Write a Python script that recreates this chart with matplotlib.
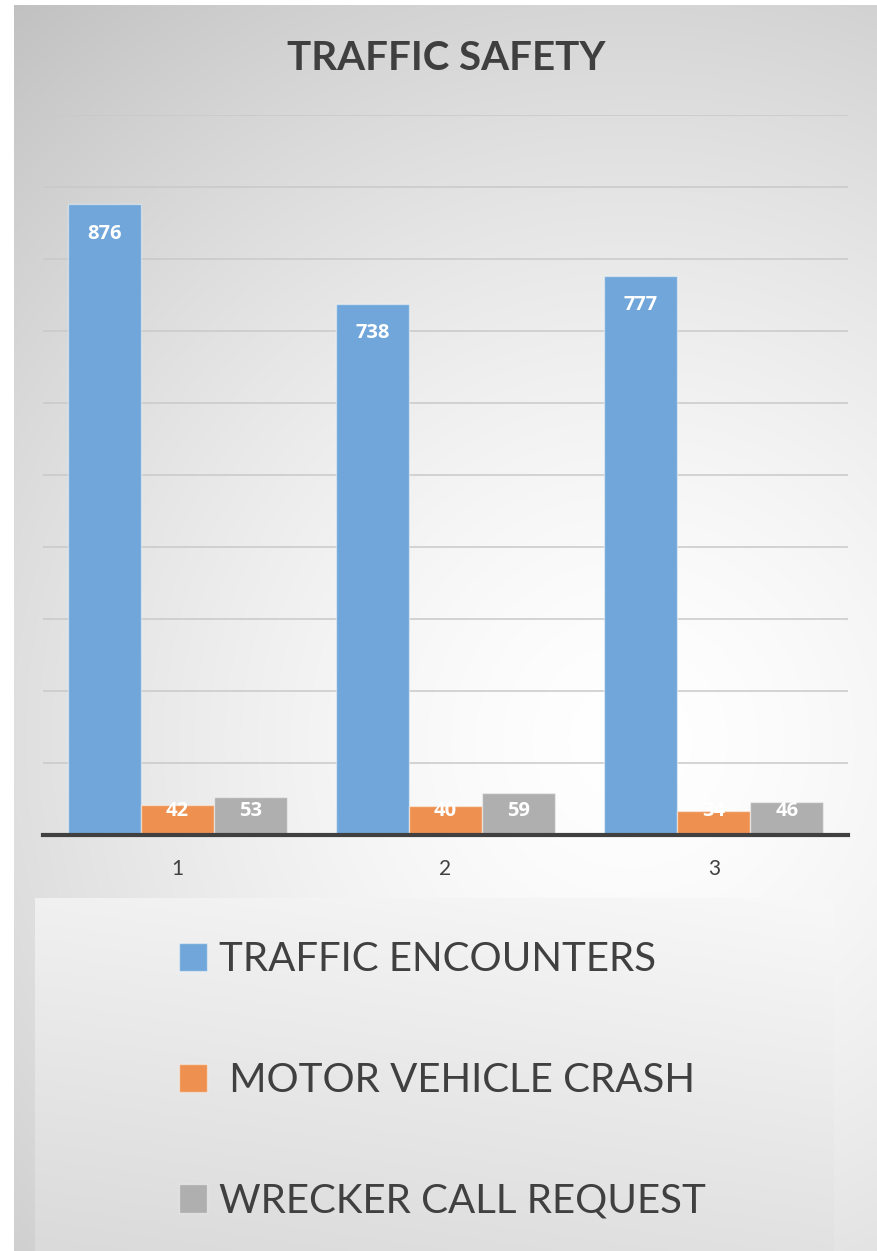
import numpy as np
import matplotlib
matplotlib.use("Agg")
import matplotlib.pyplot as plt

categories = ['1', '2', '3']
series_names = ['TRAFFIC ENCOUNTERS', ' MOTOR VEHICLE CRASH', 'WRECKER CALL REQUEST']
traffic = [876, 738, 777]
crash = [42, 40, 34]
wrecker = [53, 59, 46]
colors = ['#70a6d9', '#ee9150', '#afafaf']

W, H = 877, 1251
fig = plt.figure(figsize=(W / 100, H / 100), dpi=100)
plt.rcParams['font.family'] = ['Lato', 'DejaVu Sans']

# background
bg = fig.add_axes([0, 0, 1, 1], zorder=-10)
bg.set_xlim(0, W); bg.set_ylim(H, 0); bg.axis('off')
yy, xx = np.mgrid[0:H, 0:W]
d = np.sqrt((xx - 630) ** 2 + (yy - 740) ** 2)
g = 255 - 62 * np.clip(d / 960, 0, 1) ** 1.5
img = np.dstack([g, g, g]) / 255.0
img[:5, :, :] = 1.0
img[:, :14, :] = 1.0
bg.imshow(img, extent=(0, W, H, 0), aspect='auto', interpolation='bilinear')
# legend box gradient
ly0, ly1, lx0, lx1 = 898, H, 35, 834
ly, lx = np.mgrid[ly0:ly1, lx0:lx1]
t = ((ly - ly0) / (ly1 - ly0)) * 0.75 + ((lx1 - lx) / (lx1 - lx0)) * 0.25
lg = 248 - 30 * t
bg.imshow(np.dstack([lg, lg, lg]) / 255.0, extent=(lx0, lx1, ly1, ly0), aspect='auto', interpolation='bilinear')
bg.set_xlim(0, W); bg.set_ylim(H, 0)

# main axes
left, right = 43 / W, 848 / W
bottom, top = 1 - 835 / H, 1 - 115 / H
ax = fig.add_axes([left, bottom, right - left, top - bottom])
ax.patch.set_alpha(0)
x = np.arange(len(categories))
w = 0.272
all_series = [traffic, crash, wrecker]
bars = []
for i, (vals, c, name) in enumerate(zip(all_series, colors, series_names)):
    b = ax.bar(x + (i - 1) * w, vals, w, color=c, edgecolor=(1, 1, 1, 0.45), linewidth=1.0,
               label=name, zorder=3)
    bars.append(b)
    for xi, v in zip(x + (i - 1) * w, vals):
        ax.text(xi, max(v - 41, 33), str(v), ha='center', va='center', color='white',
                fontsize=14.5, fontweight='bold', fontfamily=['Open Sans', 'DejaVu Sans'], zorder=4)

ax.set_xlim(-0.5, 2.5)
ax.set_ylim(0, 1000)
ax.set_yticks(np.arange(100, 1001, 100))
ax.yaxis.grid(True, color='#c9c9c9', linewidth=1.1, zorder=0)
ax.tick_params(axis='y', length=0, labelleft=False)
ax.set_xticks(x)
ax.set_xticklabels(categories, fontsize=15, color='#404040')
ax.tick_params(axis='x', length=0, pad=17)
for s in ['left', 'right', 'top']:
    ax.spines[s].set_visible(False)
ax.spines['bottom'].set_color('#404040')
ax.spines['bottom'].set_linewidth(3)
ax.spines['bottom'].set_zorder(5)

fig.text(446 / W, 1 - 58 / H, 'TRAFFIC SAFETY', ha='center', va='center', fontsize=29,
         fontweight='bold', color='#3f3f3f')

leg = fig.legend(handles=bars, labels=series_names, loc='upper left',
                 bbox_to_anchor=(179 / W, 1 - 941 / H), frameon=False,
                 fontsize=29, labelcolor='#404040', handlelength=0.7, handleheight=0.7,
                 handletextpad=0.3, labelspacing=2.08, borderaxespad=0, borderpad=0)

fig.savefig('out.png', dpi=100)
